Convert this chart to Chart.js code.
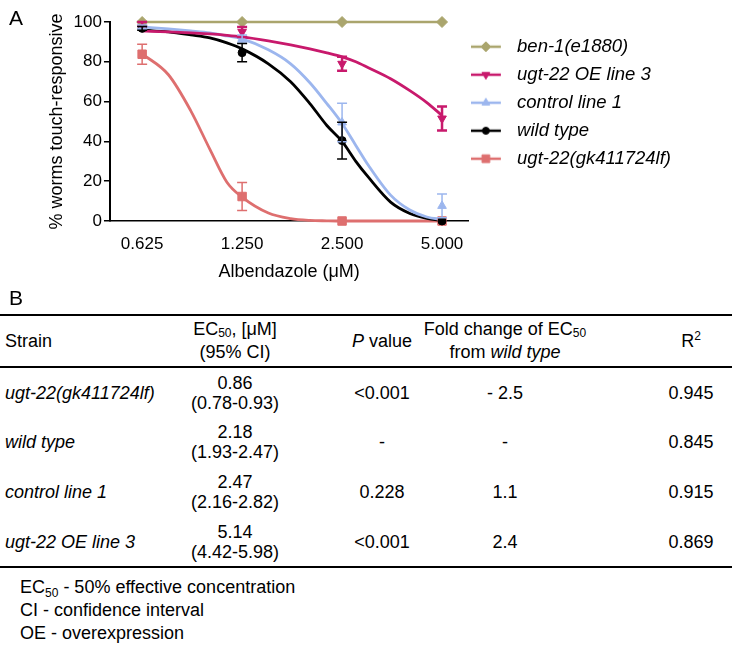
<!DOCTYPE html>
<html>
<head>
<meta charset="utf-8">
<script src="https://cdn.jsdelivr.net/npm/chart.js@4.4.0/dist/chart.umd.min.js"></script>
<style>
  body { margin: 0; background: #fff; font-family: 'Liberation Sans', Arial, sans-serif; color: #000; }
  #wrap { position: relative; width: 736px; height: 651px; overflow: hidden; }
  #chart { position: absolute; left: 0; top: 0; }
  .panel { position: absolute; font-size: 21px; line-height: 21px; }
  #tbl { position: absolute; left: 0; top: 314px; width: 732px; border-collapse: collapse; table-layout: fixed; font-size: 18px; }
  #tbl th { font-weight: normal; }
  #tbl thead tr { height: 52px; border-top: 2px solid #000; border-bottom: 2px solid #000; }
  #tbl thead th { line-height: 23px; }
  #tbl tbody tr { height: 50px; }
  #tbl tbody tr:last-child { border-bottom: 2px solid #000; }
  #tbl td, #tbl th { padding: 0; line-height: 20px; vertical-align: middle; }
  #tbl .s { text-align: left; padding-left: 5px; }
  .c { display: block; width: max-content; position: relative; left: 50%; transform: translateX(-50%); white-space: nowrap; text-align: center; }
  sub { font-size: 12px; vertical-align: -2px; line-height: 0; }
  sup { font-size: 12px; vertical-align: 7px; line-height: 0; }
  #notes { position: absolute; left: 20px; top: 576px; font-size: 18px; line-height: 23px; }
  #notes sub { vertical-align: -4px; }
</style>
</head>
<body>
<div id="wrap">
  <canvas id="chart" width="736" height="290"></canvas>
  <div class="panel" style="left:9px; top:7px;">A</div>
  <div class="panel" style="left:9px; top:287px;">B</div>
  <table id="tbl">
    <colgroup>
      <col style="width:170px"><col style="width:130px"><col style="width:164px"><col style="width:82px"><col style="width:186px">
    </colgroup>
    <thead>
      <tr>
        <th class="s">Strain</th>
        <th><span class="c">EC<sub>50</sub>, [μM]<br>(95% CI)</span></th>
        <th><span class="c"><i>P</i> value</span></th>
        <th><span class="c">Fold change of EC<sub>50</sub><br>from <i>wild type</i></span></th>
        <th style="padding-left:104px"><span class="c">R<sup>2</sup></span></th>
      </tr>
    </thead>
    <tbody id="rows"></tbody>
  </table>
  <div id="notes">
    EC<sub>50</sub> - 50% effective concentration<br>
    CI - confidence interval<br>
    OE - overexpression
  </div>
</div>
<script>
// doses tested (µM) and the axis labels
const doses = [0.625, 1.25, 2.5, 5];
const doseLabels = ['0.625', '1.250', '2.500', '5.000'];
const strains = ['ben-1(e1880)', 'ugt-22 OE line 3', 'control line 1', 'wild type', 'ugt-22(gk411724lf)'];

// mean % touch-responsive and error bar (+/-)
const ben1Mean = [100, 100, 100, 100];
const ben1Err = [0, 0, 0, 0];
const oeMean = [99, 95, 79, 51.5];
const oeErr = [1, 2.5, 3.5, 6];
const ctrlMean = [97.5, 91.5, 49.5, 7.6];
const ctrlErr = [1, 2, 9.7, 6];
const wtMean = [96.8, 84.6, 40.4, 0];
const wtErr = [1, 4.6, 9.2, 0];
const lfMean = [83.8, 12.3, 0, 0];
const lfErr = [5, 7, 0, 0];

// fitted curves
const fitDoses = [0.625, 0.75, 0.875, 1.0, 1.125, 1.25, 1.5, 1.75, 2.0, 2.25, 2.5, 2.75, 3.0, 3.5, 4.0, 4.5, 5.0];
const oeFit = [95.5, 95, 94.5, 94, 93.3, 92.5, 90.5, 88.5, 86.5, 84.5, 82.5, 80, 77, 71.5, 65.5, 59.5, 53];
const ctrlFit = [97.5, 96.5, 95.5, 94.5, 93, 91.5, 86, 79, 69.5, 59, 49, 38, 28, 13, 5.5, 2, 0.8];
const wtFit = [96, 95, 93.5, 92, 89.5, 86.5, 79, 70, 59, 48, 40, 30, 22, 9.5, 3.8, 1.3, 0.3];
const lfFit = [84, 73.5, 55.5, 36, 19.5, 12, 4, 1.2, 0.3, 0.1, 0, 0, 0, 0, 0, 0, 0];

// table (panel B)
const tableStrains = ['ugt-22(gk411724lf)', 'wild type', 'control line 1', 'ugt-22 OE line 3'];
const ec50 = ['0.86', '2.18', '2.47', '5.14'];
const ec50CI = ['(0.78-0.93)', '(1.93-2.47)', '(2.16-2.82)', '(4.42-5.98)'];
const pValues = ['<0.001', '-', '0.228', '<0.001'];
const foldChange = ['- 2.5', '-', '1.1', '2.4'];
const rSquared = ['0.945', '0.845', '0.915', '0.869'];

var colors = ['#aaa56d', '#c8196c', '#9cb6ee', '#000000', '#de6f6f'];
var markers = ['rectRot', 'triangle', 'triangle', 'circle', 'rect'];
var rotations = [0, 180, 0, 0, 0];
var radii = [5.5, 5, 5, 4, 6];
var means = [ben1Mean, oeMean, ctrlMean, wtMean, lfMean];
var errs = [ben1Err, oeErr, ctrlErr, wtErr, lfErr];
var fits = [null, oeFit, ctrlFit, wtFit, lfFit];

Chart.defaults.font.family = "'Liberation Sans', Arial, sans-serif";
Chart.defaults.color = '#000';

// legend icon: short line with the marker in the middle
function legendIcon(i) {
    var c = document.createElement('canvas');
    c.width = 44; c.height = 20;
    var g = c.getContext('2d');
    g.strokeStyle = colors[i];
    g.lineWidth = 2.5;
    g.beginPath(); g.moveTo(0, 10); g.lineTo(30, 10); g.stroke();
    g.fillStyle = colors[i];
    g.lineWidth = 1;
    Chart.helpers.drawPoint(g, {pointStyle: markers[i], radius: radii[i] - 0.5, rotation: rotations[i], borderWidth: 1}, 15, 10);
    return c;
}

var datasets = [];
// point datasets first (they come on top and feed the legend)
for (let i = 0; i < strains.length; i++) {
    datasets.push({
        label: strains[i],
        data: doses.map((d, k) => ({x: d, y: means[i][k]})),
        errors: errs[i],
        errorWidth: i === 1 ? 2.5 : 1.5,
        borderColor: colors[i],
        backgroundColor: colors[i],
        pointStyle: markers[i],
        pointRotation: rotations[i],
        pointRadius: radii[i],
        pointBorderWidth: 1,
        showLine: i === 0,
        borderWidth: 2.5,
        clip: false
    });
}
for (let i = 1; i < strains.length; i++) {
    datasets.push({
        label: strains[i] + ' fit',
        data: fitDoses.map((d, k) => ({x: d, y: fits[i][k]})),
        borderColor: colors[i],
        backgroundColor: colors[i],
        showLine: true,
        pointRadius: 0,
        borderWidth: 2.8,
        cubicInterpolationMode: 'monotone',
        clip: false
    });
}

const errorBars = {
    id: 'errorBars',
    afterDatasetsDraw(chart) {
        const ctx = chart.ctx;
        const ys = chart.scales.y;
        chart.data.datasets.forEach((ds, di) => {
            if (!ds.errors) return;
            const meta = chart.getDatasetMeta(di);
            ctx.save();
            ctx.strokeStyle = ds.borderColor;
            ctx.lineWidth = ds.errorWidth;
            meta.data.forEach((pt, k) => {
                const e = ds.errors[k];
                if (!e) return;
                const v = ds.data[k].y;
                const top = ys.getPixelForValue(v + e);
                const bot = ys.getPixelForValue(v - e);
                ctx.beginPath();
                ctx.moveTo(pt.x, top); ctx.lineTo(pt.x, bot);
                ctx.moveTo(pt.x - 5, top); ctx.lineTo(pt.x + 5, top);
                ctx.moveTo(pt.x - 5, bot); ctx.lineTo(pt.x + 5, bot);
                ctx.stroke();
            });
            ctx.restore();
        });
    }
};

new Chart(document.getElementById('chart'), {
    type: 'scatter',
    data: {datasets: datasets},
    plugins: [errorBars],
    options: {
        responsive: false,
        animation: false,
        events: [],
        layout: {padding: {left: 42, right: 55, top: 22, bottom: 5}},
        plugins: {
            tooltip: {enabled: false},
            legend: {
                position: 'right',
                align: 'start',
                fullSize: false,
                maxWidth: 400,
                title: {display: true, text: '', font: {size: 5}, padding: 0},
                labels: {
                    usePointStyle: true,
                    pointStyleWidth: 30,
                    padding: 9.5,
                    color: '#000',
                    font: {size: 18.5, style: 'italic'},
                    generateLabels: function (chart) {
                        return strains.map((s, i) => ({
                            text: s,
                            pointStyle: legendIcon(i),
                            fillStyle: colors[i],
                            strokeStyle: colors[i],
                            lineWidth: 0,
                            hidden: false,
                            datasetIndex: i
                        }));
                    }
                }
            }
        },
        scales: {
            x: {
                type: 'logarithmic',
                min: 0.5,
                max: 6,
                afterBuildTicks: function (scale) {
                    scale.ticks = doses.map(v => ({value: v}));
                },
                ticks: {
                    callback: function (value, index) { return doseLabels[index]; },
                    autoSkip: false,
                    maxRotation: 0,
                    padding: 13,
                    font: {size: 17}
                },
                grid: {display: true, drawOnChartArea: false, drawTicks: false},
                border: {display: true, color: '#000', width: 1.5},
                title: {display: true, text: 'Albendazole (μM)', font: {size: 18}, padding: {top: -6, bottom: 2}}
            },
            y: {
                min: 0,
                max: 100,
                ticks: {stepSize: 20, padding: 2, font: {size: 17}},
                grid: {drawOnChartArea: false, drawTicks: true, tickLength: 6, color: '#000', lineWidth: 1.5},
                border: {display: true, color: '#000', width: 2},
                title: {display: true, text: '% worms touch-responsive', font: {size: 18}}
            }
        }
    }
});

// panel B table rows
var rows = document.getElementById('rows');
for (let i = 0; i < tableStrains.length; i++) {
    var tr = document.createElement('tr');
    tr.innerHTML =
        '<td class="s"><i>' + tableStrains[i] + '</i></td>' +
        '<td><span class="c">' + ec50[i] + '<br>' + ec50CI[i] + '</span></td>' +
        '<td><span class="c">' + pValues[i].replace('<', '&lt;') + '</span></td>' +
        '<td><span class="c">' + foldChange[i] + '</span></td>' +
        '<td style="padding-left:104px"><span class="c">' + rSquared[i] + '</span></td>';
    rows.appendChild(tr);
}
</script>
</body>
</html>
